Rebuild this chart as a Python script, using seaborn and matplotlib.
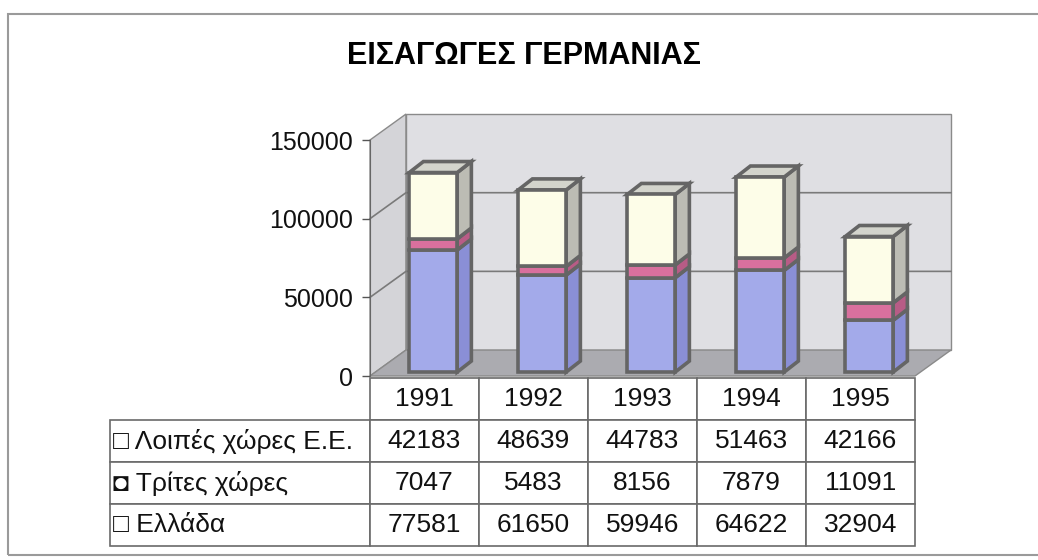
import matplotlib
matplotlib.use("Agg")
import matplotlib.pyplot as plt
import pandas as pd
import seaborn as sns
from matplotlib.patches import Polygon, Rectangle
from matplotlib.table import Table

years = ["1991", "1992", "1993", "1994", "1995"]
ellada = [77581, 61650, 59946, 64622, 32904]
trites = [7047, 5483, 8156, 7879, 11091]
loipes = [42183, 48639, 44783, 51463, 42166]
series_names = ["Λοιπές χώρες Ε.Ε.", "Τρίτες χώρες", "Ελλάδα"]
series_marks = ["□", "◘", "□"]
y_ticks = [0, 50000, 100000, 150000]

colors = {"Ελλάδα": "#a3aaea", "Τρίτες χώρες": "#d9709e", "Λοιπές χώρες Ε.Ε.": "#fdfde8"}
side_colors = {"Ελλάδα": "#8a8fd6", "Τρίτες χώρες": "#b85c86", "Λοιπές χώρες Ε.Ε.": "#bcbcb4"}
edge = "#656565"

sns.set_style("white")
plt.rcParams["font.family"] = ["Liberation Sans", "DejaVu Sans"]

fig = plt.figure(figsize=(10.38, 5.6), dpi=100)
ax = fig.add_axes([370 / 1038, 1 - 376 / 560, 545 / 1038, 236 / 560])

df = pd.DataFrame({"year": years, "Ελλάδα": ellada, "Τρίτες χώρες": trites,
                   "Λοιπές χώρες Ε.Ε.": loipes})

# pseudo 3D walls
dx, dy = 0.33, 16500
wall_kw = dict(clip_on=False, zorder=0, edgecolor="#8a8a8a", linewidth=1)
ax.add_patch(Polygon([(-0.5, 0), (-0.5, 150000), (-0.5 + dx, 150000 + dy), (-0.5 + dx, dy)],
                     facecolor="#d4d4d8", **wall_kw))
ax.add_patch(Rectangle((-0.5 + dx, dy), 5, 150000, facecolor="#dfdfe3", **wall_kw))
ax.add_patch(Polygon([(-0.5, 0), (4.5, 0), (4.5 + dx, dy), (-0.5 + dx, dy)],
                     facecolor="#ababb0", **wall_kw))
for v in y_ticks[1:-1]:
    ax.plot([-0.5, -0.5 + dx, 4.5 + dx], [v, v + dy, v + dy], color="#7a7a7a",
            linewidth=1.2, clip_on=False, zorder=0.5)

# stacked bars
bottom = [2500] * len(years)
order = ["Ελλάδα", "Τρίτες χώρες", "Λοιπές χώρες Ε.Ε."]
bdx, bdy = 0.13, 7000
shift = 0.08
for name in order:
    n_before = len(ax.patches)
    sns.barplot(data=df, x="year", y=name, bottom=bottom, color=colors[name],
                saturation=1, width=0.44, edgecolor=edge, linewidth=2.6, ax=ax, zorder=3)
    for p in ax.patches[n_before:]:
        p.set_x(p.get_x() + shift)
        x, w, y0, h = p.get_x(), p.get_width(), p.get_y(), p.get_height()
        ax.add_patch(Polygon([(x + w, y0), (x + w + bdx, y0 + bdy), (x + w + bdx, y0 + h + bdy),
                              (x + w, y0 + h)], facecolor=side_colors[name], edgecolor=edge,
                             linewidth=2.6, zorder=2, clip_on=False))
        if name == order[-1]:
            ax.add_patch(Polygon([(x, y0 + h), (x + bdx, y0 + h + bdy), (x + w + bdx, y0 + h + bdy),
                                  (x + w, y0 + h)], facecolor="#d3d4cc", edgecolor=edge,
                                 linewidth=2.6, zorder=2, clip_on=False))
    bottom = [b + v for b, v in zip(bottom, df[name])]

ax.set_xlim(-0.5, 4.5)
ax.set_ylim(0, 150000)
ax.set_yticks(y_ticks)
ax.set_yticklabels([str(t) for t in y_ticks], fontsize=18, color="#111111")
ax.tick_params(axis="y", length=6, width=1, color="#555555", pad=6, left=True)
ax.set_xticks([])
ax.set_xlabel("")
ax.set_ylabel("")
ax.patch.set_alpha(0)
for s in ["top", "right", "bottom"]:
    ax.spines[s].set_visible(False)
ax.spines["left"].set_color("#666666")

# data table below the plot (bbox covers the data cells; row labels hang to the left)
values = {"Λοιπές χώρες Ε.Ε.": loipes, "Τρίτες χώρες": trites, "Ελλάδα": ellada}
lw_label, lw_col, rh = 260 / 545, 109 / 545, 42 / 236
tbl = Table(ax, bbox=[0, -170 / 236, 5 * lw_col, 168 / 236])
for j, yr in enumerate(years):
    tbl.add_cell(0, j, width=lw_col, height=rh, text=yr, loc="center")
for i, name in enumerate(series_names, start=1):
    c = tbl.add_cell(i, -1, width=lw_label, height=rh, text=f"{series_marks[i - 1]} {name}", loc="left")
    c.PAD = 0.01
    for j in range(len(years)):
        tbl.add_cell(i, j, width=lw_col, height=rh, text=str(values[name][j]), loc="center")
tbl.auto_set_font_size(False)
tbl.set_fontsize(19)
for cell in tbl.get_celld().values():
    cell.set_edgecolor("#6a6a6a")
    cell.set_linewidth(1.2)
    cell.get_text().set_color("#111111")
ax.add_table(tbl)
tbl.set_clip_on(False)

fig.text(0.505, 0.9, "ΕΙΣΑΓΩΓΕΣ ΓΕΡΜΑΝΙΑΣ", ha="center", va="center",
         fontsize=22, fontweight="bold", color="black")
fig.patches.append(Rectangle((8 / 1038, 5 / 560), 1040 / 1038, 541 / 560, transform=fig.transFigure,
                             fill=False, edgecolor="#9a9a9a", linewidth=1.5))

fig.savefig("out.png", dpi=100, facecolor="white")
